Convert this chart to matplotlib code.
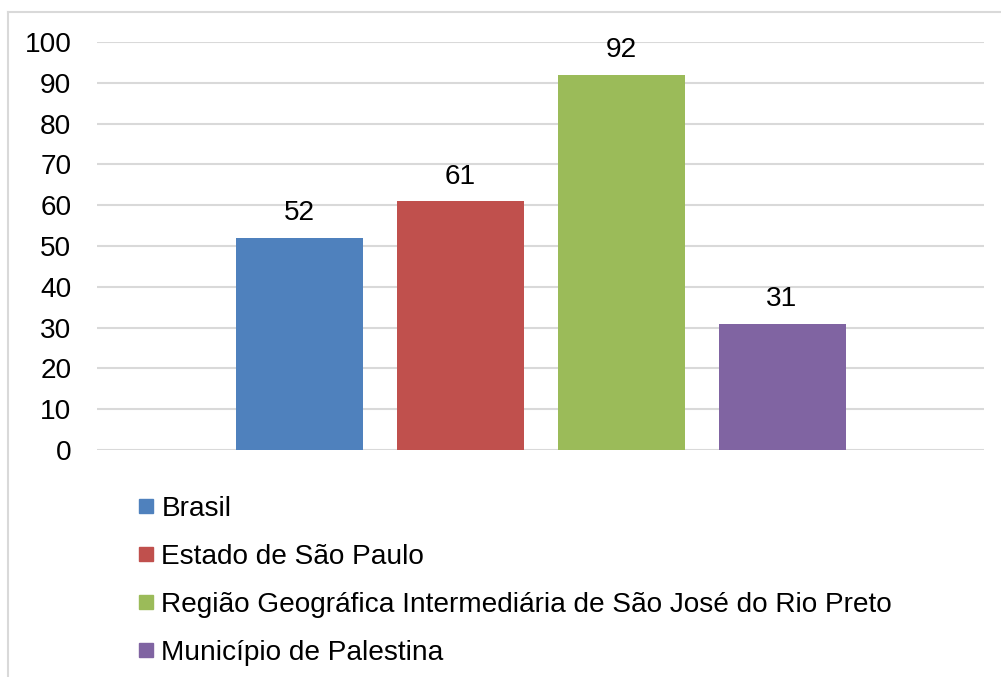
import matplotlib
matplotlib.use("Agg")
import matplotlib.pyplot as plt
from matplotlib.lines import Line2D

series = ["Brasil", "Estado de São Paulo",
          "Região Geográfica Intermediária de São José do Rio Preto",
          "Município de Palestina"]
values = [52, 61, 92, 31]
colors = ["#4f81bd", "#c0504d", "#9bbb59", "#8064a2"]
yticks = [0, 10, 20, 30, 40, 50, 60, 70, 80, 90, 100]

plt.rcParams['font.family'] = ['Liberation Sans', 'DejaVu Sans']
FS = 20.2

W, H = 1001, 677
fig = plt.figure(figsize=(W / 100, H / 100), dpi=100)
ax = fig.add_axes([97 / W, 1 - 450 / H, (984 - 97) / W, (450 - 42) / H])

spacing = 161 / 887
width = 127 / 887
n = len(values)
for i, (v, c) in enumerate(zip(values, colors)):
    x = (i - (n - 1) / 2) * spacing
    ax.bar(x, v, width=width, color=c, zorder=3)
    ax.text(x, v + 2.8, str(v), ha='center', va='bottom', fontsize=FS, color='#000000')

ax.set_xlim(-0.5, 0.5)
ax.set_ylim(0, 100)
ax.set_yticks(yticks)
ax.set_yticklabels([str(t) for t in yticks], fontsize=FS)
ax.set_xticks([])
ax.tick_params(axis='y', length=0, pad=18.5)
ax.grid(axis='y', color='#d9d9d9', linewidth=1.5, zorder=0)
for s in ax.spines.values():
    s.set_visible(False)

handles = [Line2D([], [], marker='s', linestyle='none', markersize=10.5,
                  markerfacecolor=c, markeredgecolor=c) for c in colors]
fig.legend(handles, series, loc='upper left', bbox_to_anchor=(139 / W, 1 - 496 / H),
           frameon=False, fontsize=FS, handlelength=0.5, handletextpad=0.3,
           labelspacing=0.78, borderaxespad=0, borderpad=0)

fig.add_artist(Line2D([8 / W, 1], [1 - 12 / H, 1 - 12 / H], color='#d9d9d9', linewidth=1.5,
                      transform=fig.transFigure))
fig.add_artist(Line2D([8 / W, 8 / W], [0, 1 - 12 / H], color='#d9d9d9', linewidth=1.5,
                      transform=fig.transFigure))

fig.savefig("out.png", dpi=100)
